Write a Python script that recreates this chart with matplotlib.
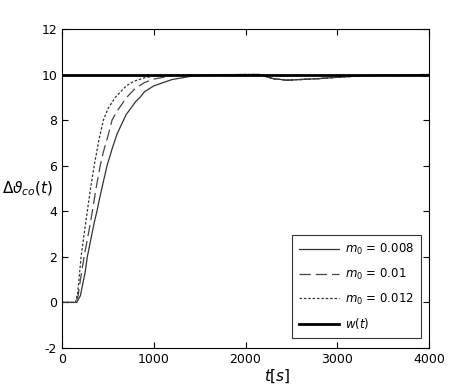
import matplotlib.pyplot as plt

# step response of the controlled temperature for three values of m0
t_008 = [0, 160, 200, 250, 275, 300, 350, 380, 400, 450, 490, 550, 600, 670, 700, 800, 850,
         900, 1000, 1140, 1200, 1400, 1600, 2000, 2150, 2300, 2450, 2600, 2800, 3000, 3300, 3600, 4000]
y_008 = [0, 0, 0.3, 1.3, 2.0, 2.5, 3.5, 4.0, 4.4, 5.3, 6.0, 6.8, 7.4, 8.0, 8.25, 8.8, 9.0,
         9.25, 9.5, 9.7, 9.78, 9.92, 9.97, 10.0, 10.0, 9.82, 9.75, 9.78, 9.82, 9.88, 9.95, 9.98, 10.0]

t_01 = [0, 150, 175, 200, 240, 300, 330, 370, 415, 450, 500, 545, 600, 705, 800, 900, 1000,
        1200, 1400, 2000, 2150, 2300, 2450, 2600, 2800, 3000, 3300, 3600, 4000]
y_01 = [0, 0, 0.3, 1.0, 2.0, 3.3, 4.0, 5.0, 6.0, 6.6, 7.3, 8.0, 8.4, 9.0, 9.4, 9.65, 9.8,
        9.95, 9.99, 10.0, 10.0, 9.82, 9.75, 9.78, 9.82, 9.88, 9.95, 9.98, 10.0]

t_012 = [0, 145, 170, 207, 240, 275, 310, 350, 400, 450, 500, 580, 700, 780, 900, 1000,
         1200, 2000, 2150, 2300, 2450, 2600, 2800, 3000, 3300, 3600, 4000]
y_012 = [0, 0, 0.4, 2.0, 3.0, 4.0, 5.0, 6.0, 7.1, 8.0, 8.5, 9.0, 9.5, 9.7, 9.86, 9.93,
         9.98, 10.0, 10.0, 9.82, 9.75, 9.78, 9.82, 9.88, 9.95, 9.98, 10.0]

t_w = [0, 4000]
y_w = [10, 10]

plt.rcParams['axes.unicode_minus'] = False

fig = plt.figure(figsize=(4.74, 3.91), dpi=100)
ax = fig.add_axes([0.131, 0.110, 0.774, 0.816])

ax.plot(t_008, y_008, color='#333333', lw=0.9, ls='-', label=r'$m_0$ = 0.008')
ax.plot(t_01, y_01, color='#444444', lw=0.9, ls=(0, (9, 4)), label=r'$m_0$ = 0.01')
ax.plot(t_012, y_012, color='#333333', lw=0.9, ls=(0, (2, 1.5)), label=r'$m_0$ = 0.012')
ax.plot(t_w, y_w, color='black', lw=2.0, label=r'$w(t)$')

ax.set_xlim(0, 4000)
ax.set_ylim(-2, 12)
ax.set_xticks([0, 1000, 2000, 3000, 4000])
ax.set_yticks([-2, 0, 2, 4, 6, 8, 10, 12])
ax.tick_params(direction='in', top=True, right=True, labelsize=9, length=4)

ax.set_ylabel(r'$\Delta\vartheta_{co}(t)$', rotation=0, fontsize=11)
ax.yaxis.set_label_coords(-0.093, 0.47)
ax.set_xlabel(r'$t[s]$', fontsize=11)
ax.xaxis.set_label_coords(0.586, -0.06)

leg = ax.legend(loc='lower right', bbox_to_anchor=(0.978, 0.031), fontsize=8.5,
                frameon=True, fancybox=False, edgecolor='black', handlelength=3.4,
                borderpad=0.6, labelspacing=0.8, borderaxespad=0, handletextpad=0.5)
leg.get_frame().set_linewidth(0.8)

fig.savefig('out.png', dpi=100)
